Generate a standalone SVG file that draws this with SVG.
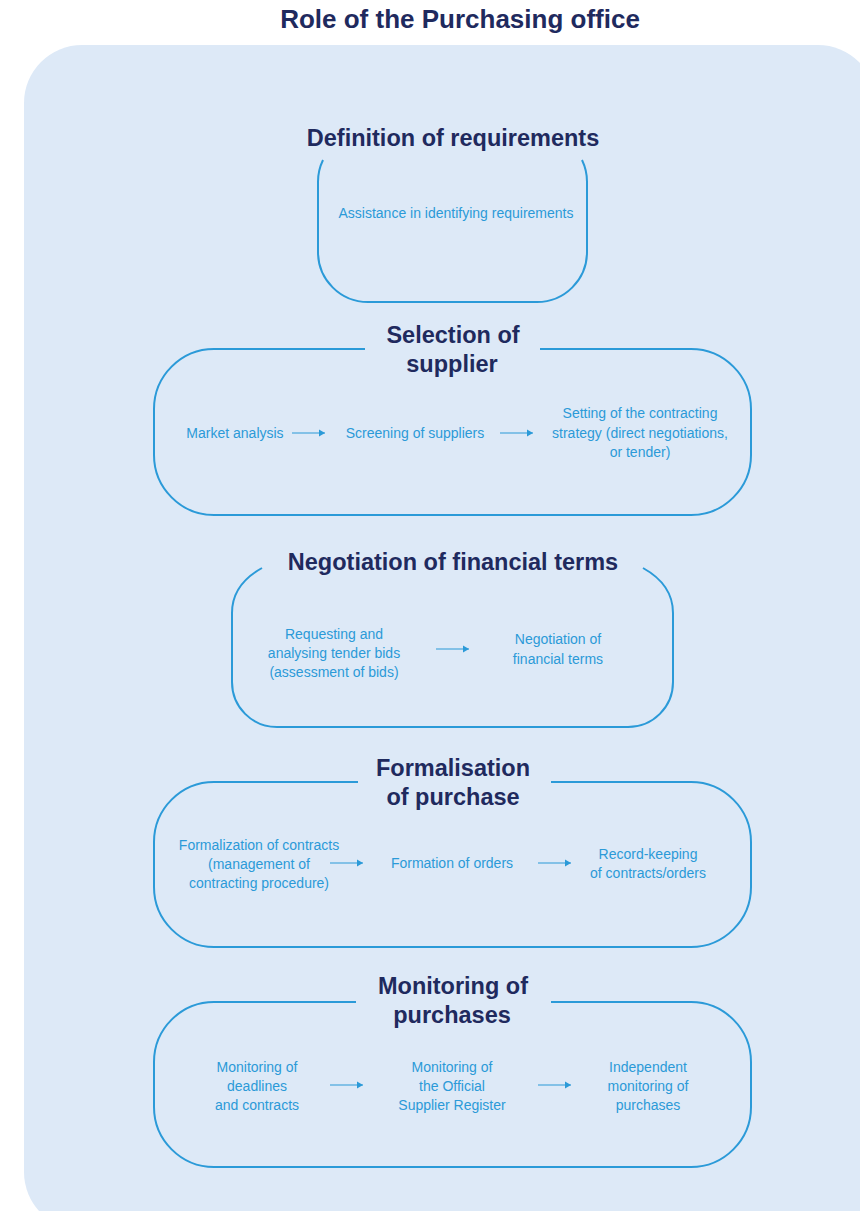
<svg xmlns="http://www.w3.org/2000/svg" width="860" height="1211" viewBox="0 0 860 1211">
<defs>
<marker id="ah" markerUnits="userSpaceOnUse" markerWidth="7" markerHeight="8" refX="6" refY="4" orient="auto">
<path d="M0,0.5 L6,4 L0,7.5 z" fill="#2b9ad8"/>
</marker>
<style>
.title{font-family:"Liberation Sans",Arial,sans-serif;font-weight:bold;fill:#1f2a5e;text-anchor:middle}
.h{font-size:23.5px}
.t{font-family:"Liberation Sans",Arial,sans-serif;font-size:14px;fill:#2b9ad8;text-anchor:middle}
.box{fill:none;stroke:#2b9ad8;stroke-width:2}
.arr{stroke:#2b9ad8;stroke-width:1.2;fill:none;marker-end:url(#ah)}
</style>
</defs>
<rect x="0" y="0" width="860" height="1211" fill="#ffffff"/>
<rect x="24" y="45" width="852" height="1185" rx="58" ry="58" fill="#dde9f7"/>
<text class="title" x="460" y="28" font-size="26">Role of the Purchasing office</text>

<g id="definition">
<path class="box" d="M323,160 A50,50 0 0 0 318,182 L318,252 A50,50 0 0 0 368,302 L537,302 A50,50 0 0 0 587,252 L587,182 A50,50 0 0 0 582,160"/>
<text class="title h" x="453" y="146">Definition of requirements</text>
<text class="t" x="456" y="218">Assistance in identifying requirements</text>
</g>

<g id="selection">
<path class="box" d="M365,349 L214,349 C181,349 154,376 154,409 L154,455 C154,488 181,515 214,515 L691,515 C724,515 751,488 751,455 L751,409 C751,376 724,349 691,349 L540,349"/>
<text class="title h" x="453" y="343">Selection of</text>
<text class="title h" x="452" y="372">supplier</text>
<text class="t" x="235" y="438">Market analysis</text>
<text class="t" x="415" y="438">Screening of suppliers</text>
<text class="t" x="640" y="418">Setting of the contracting</text>
<text class="t" x="640" y="438">strategy (direct negotiations,</text>
<text class="t" x="640" y="457">or tender)</text>
</g>

<g id="negotiation">
<path class="box" d="M262,568 C244,578 232,593 232,613 L232,682 C232,707 252,727 277,727 L628,727 C653,727 673,707 673,682 L673,613 C673,593 661,578 643,568"/>
<text class="title h" x="453" y="570" font-size="24px">Negotiation of financial terms</text>
<text class="t" x="334" y="639">Requesting and</text>
<text class="t" x="334" y="658">analysing tender bids</text>
<text class="t" x="334" y="677">(assessment of bids)</text>
<text class="t" x="558" y="644">Negotiation of</text>
<text class="t" x="558" y="664">financial terms</text>
</g>

<g id="formalisation">
<path class="box" d="M358,782 L214,782 C181,782 154,809 154,842 L154,887 C154,920 181,947 214,947 L691,947 C724,947 751,920 751,887 L751,842 C751,809 724,782 691,782 L551,782"/>
<text class="title h" x="453" y="776">Formalisation</text>
<text class="title h" x="453" y="805">of purchase</text>
<text class="t" x="259" y="850">Formalization of contracts</text>
<text class="t" x="259" y="869">(management of</text>
<text class="t" x="259" y="888">contracting procedure)</text>
<text class="t" x="452" y="868">Formation of orders</text>
<text class="t" x="648" y="859">Record-keeping</text>
<text class="t" x="648" y="878">of contracts/orders</text>
</g>

<g id="monitoring">
<path class="box" d="M356,1002 L214,1002 C181,1002 154,1029 154,1062 L154,1107 C154,1140 181,1167 214,1167 L691,1167 C724,1167 751,1140 751,1107 L751,1062 C751,1029 724,1002 691,1002 L551,1002"/>
<text class="title h" x="453" y="994">Monitoring of</text>
<text class="title h" x="452" y="1023">purchases</text>
<text class="t" x="257" y="1072">Monitoring of</text>
<text class="t" x="257" y="1091">deadlines</text>
<text class="t" x="257" y="1110">and contracts</text>
<text class="t" x="452" y="1072">Monitoring of</text>
<text class="t" x="452" y="1091">the Official</text>
<text class="t" x="452" y="1110">Supplier Register</text>
<text class="t" x="648" y="1072">Independent</text>
<text class="t" x="648" y="1091">monitoring of</text>
<text class="t" x="648" y="1110">purchases</text>
</g>

<g id="connectors">
<line class="arr" x1="292" y1="433" x2="325" y2="433"/>
<line class="arr" x1="500" y1="433" x2="533" y2="433"/>
<line class="arr" x1="436" y1="649" x2="469" y2="649"/>
<line class="arr" x1="330" y1="863" x2="363" y2="863"/>
<line class="arr" x1="538" y1="863" x2="571" y2="863"/>
<line class="arr" x1="330" y1="1085" x2="363" y2="1085"/>
<line class="arr" x1="538" y1="1085" x2="571" y2="1085"/>
</g>
</svg>
